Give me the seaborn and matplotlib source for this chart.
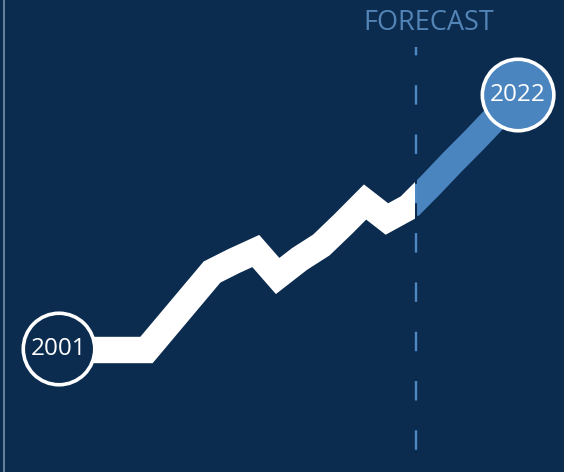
import matplotlib
matplotlib.use("Agg")
import matplotlib.pyplot as plt
from matplotlib.patches import Rectangle
from matplotlib.lines import Line2D
import pandas as pd
import seaborn as sns

# Annual index, actual through 2017 and forecast 2018-2022
years = list(range(2001, 2023))
index_values = [123, 122, 122, 122, 122, 148, 174, 200, 211, 221, 196, 213,
                227, 248, 270, 253, 265, 287, 310, 332, 355, 377]
last_actual_year = 2017
forecast_split = 2017.33
start_label = "2001"
end_label = "2022"
forecast_label = "FORECAST"

NAVY = "#0b2b4f"
BLUE = "#4a85bf"
DASH_BLUE = "#4f88c2"
TEXT_BLUE = "#5384b6"

sns.set_theme(style="white")
plt.rcParams["font.family"] = ["Open Sans", "DejaVu Sans"]
plt.rcParams["lines.scale_dashes"] = False

df = pd.DataFrame({"year": years, "value": index_values})
actual = df[df["year"] <= last_actual_year + 1]
forecast = df[df["year"] >= last_actual_year]

fig = plt.figure(figsize=(5.64, 4.72), dpi=100)
fig.patch.set_facecolor(NAVY)
ax = fig.add_axes([0, 0, 1, 1])
ax.set_facecolor(NAVY)
ax.set_xlim(1998.30, 2024.10)
ax.set_ylim(0, 472)
ax.axis("off")

# forecast divider
ax.plot([forecast_split, forecast_split], [425, 0], color=DASH_BLUE, lw=1.7,
        linestyle=(8, (14, 21.5)), zorder=1)

# actual series (white), cut vertically at the forecast divider
sns.lineplot(data=actual, x="year", y="value", color="white", lw=19, ax=ax,
             solid_joinstyle="miter", solid_capstyle="butt", zorder=2)
white_line = ax.lines[-1]
white_line.set_clip_path(Rectangle((1990, -100), forecast_split - 0.06 - 1990, 800,
                                   transform=ax.transData))

# forecast series (blue)
sns.lineplot(data=forecast, x="year", y="value", color=BLUE, lw=19, ax=ax,
             solid_joinstyle="miter", solid_capstyle="butt", zorder=2)
blue_line = ax.lines[-1]
blue_line.set_clip_path(Rectangle((forecast_split + 0.06, -100), 20, 800,
                                  transform=ax.transData))

# end-point badges
ends = df.iloc[[0, -1]].copy()
ends["kind"] = ["start", "end"]
sns.scatterplot(data=ends, x="year", y="value", hue="kind",
                palette={"start": NAVY, "end": BLUE}, s=2650,
                edgecolor="white", linewidth=2.6, legend=False, ax=ax, zorder=3)
for (_, row), label in zip(ends.iterrows(), [start_label, end_label]):
    ax.text(row["year"], row["value"], label, color="white", fontsize=17.5,
            ha="center", va="center", zorder=4)

ax.text(2017.93, 442, forecast_label, color=TEXT_BLUE, fontsize=19.5,
        ha="center", va="baseline")

fig.add_artist(Line2D([3.5 / 564, 3.5 / 564], [0, 1], transform=fig.transFigure,
                      color="#8299b8", lw=1.1))

fig.savefig("out.png", dpi=100, facecolor=NAVY)
